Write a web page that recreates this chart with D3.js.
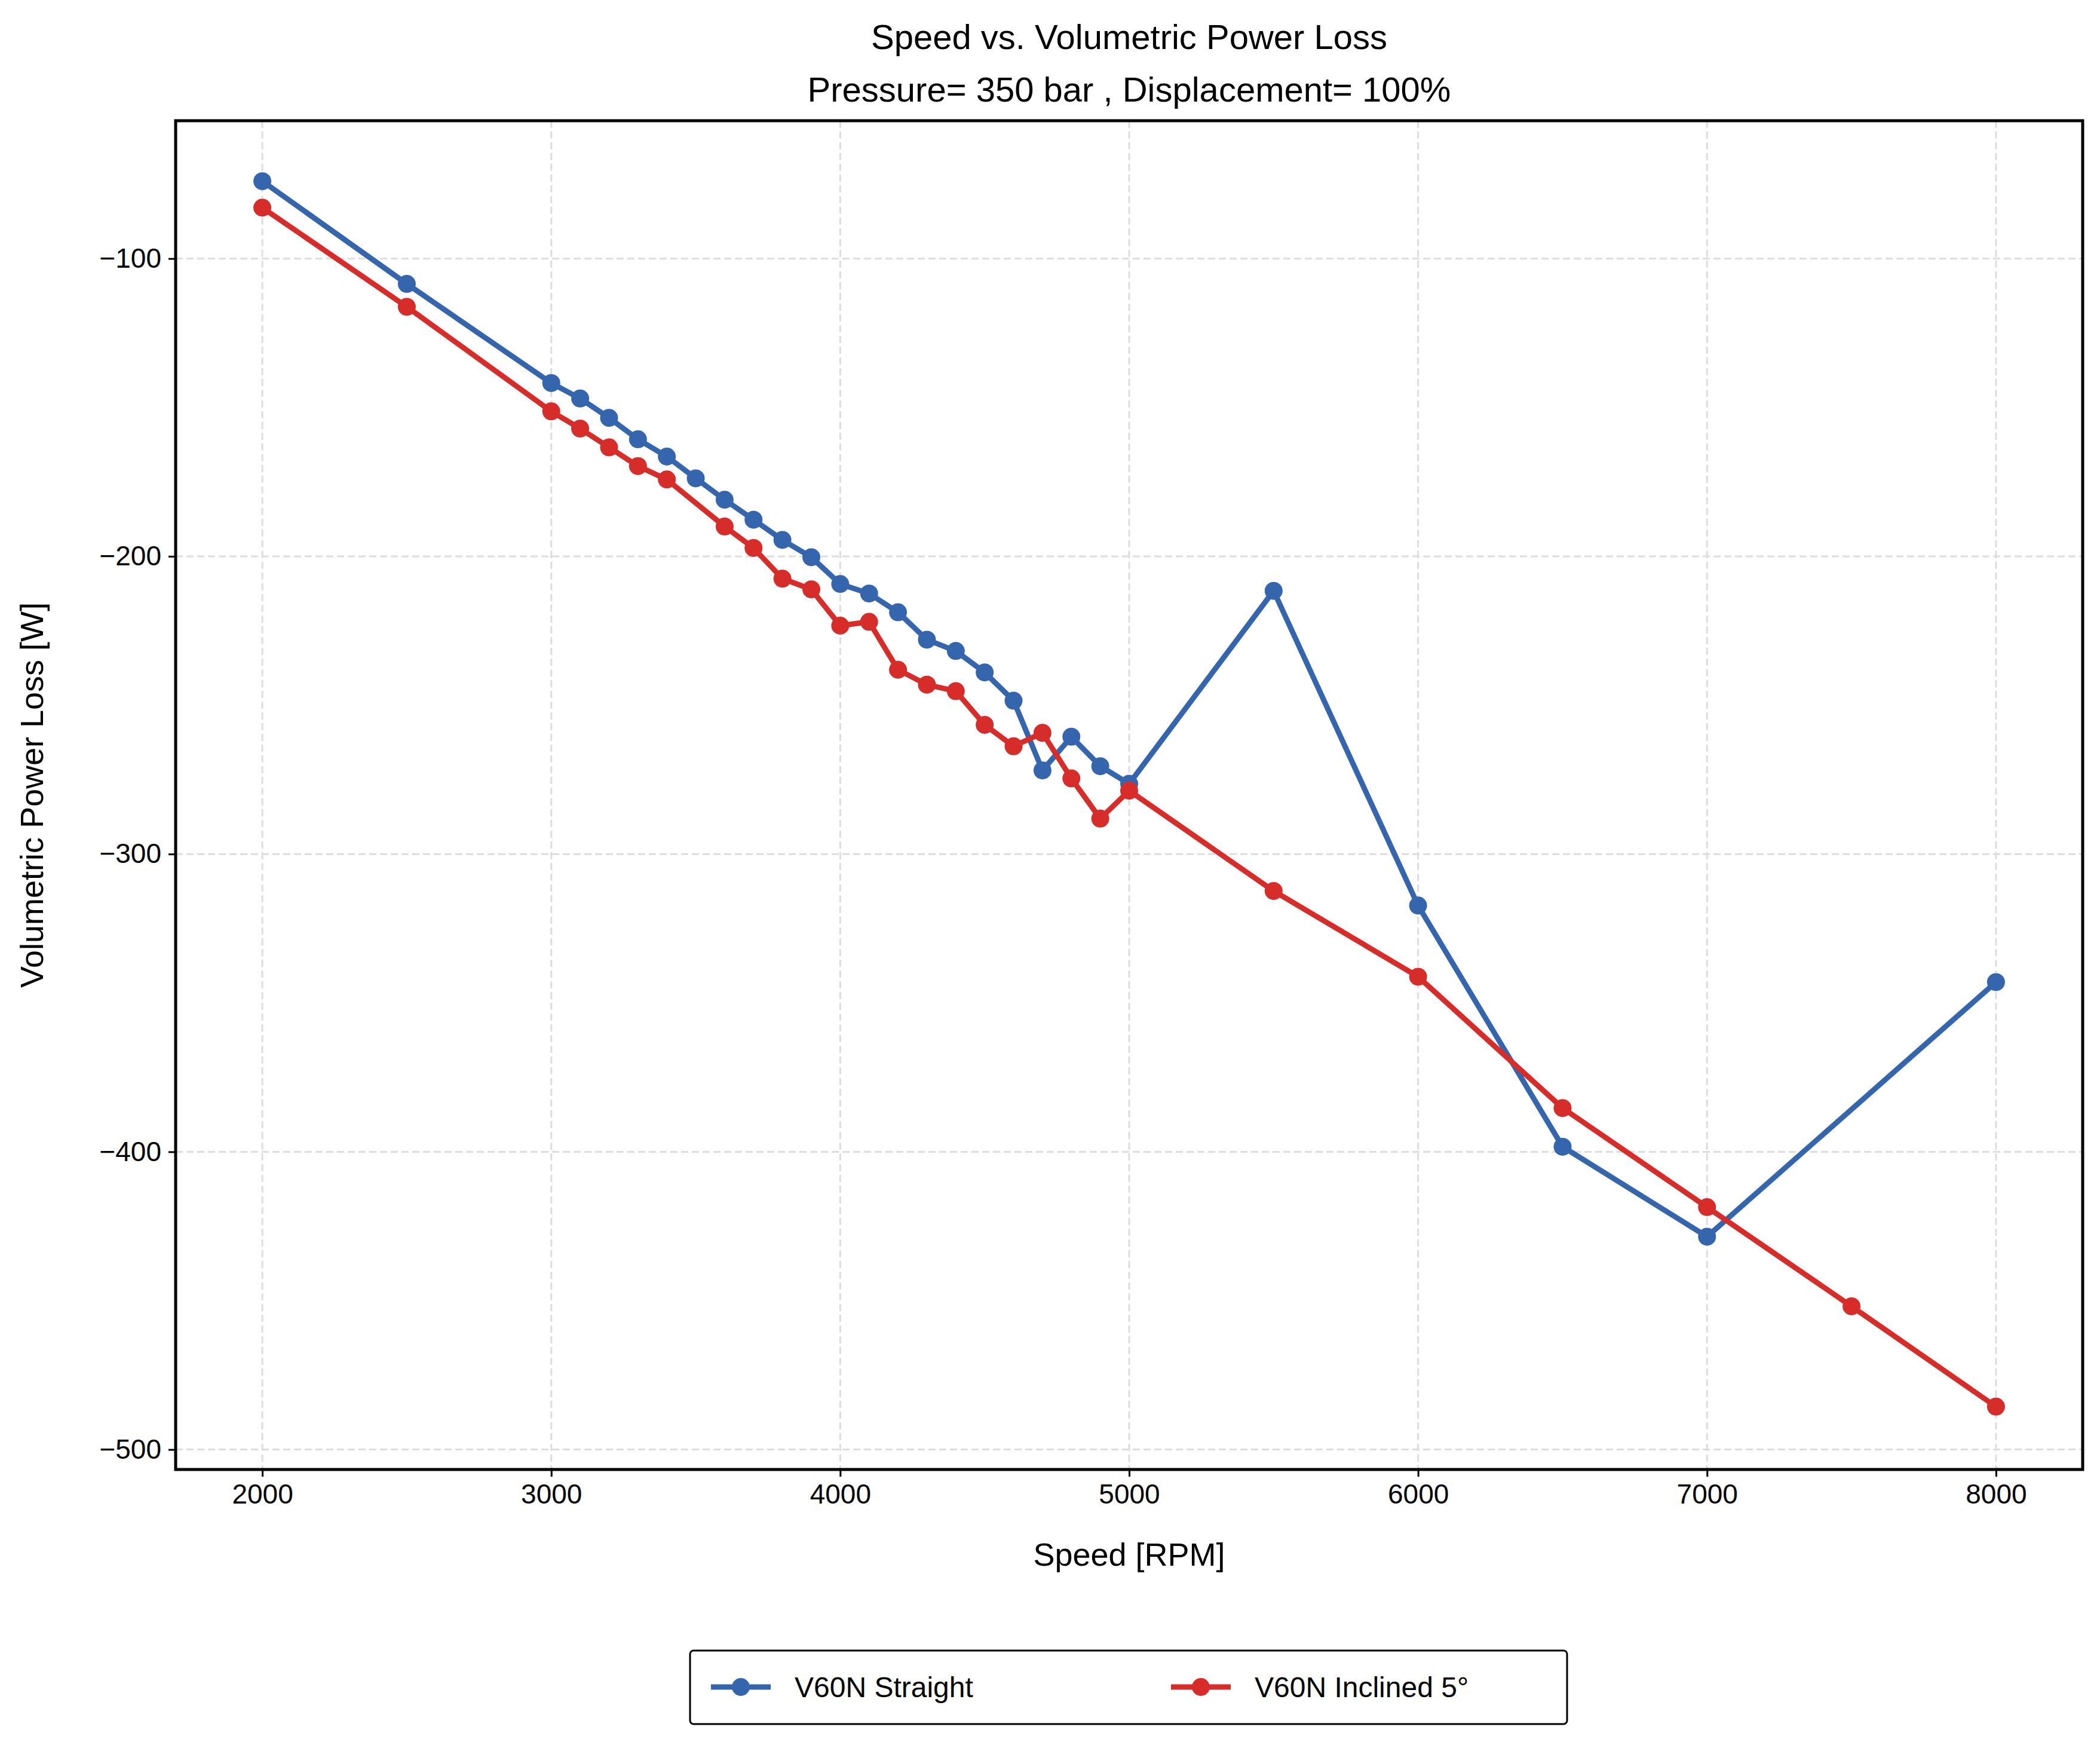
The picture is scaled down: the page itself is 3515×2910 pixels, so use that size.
<!DOCTYPE html>
<html>
<head>
<meta charset="UTF-8">
<script src="https://d3js.org/d3.v7.min.js"></script>
<style>
  body { margin: 0; background: white; }
  text { font-family: "Liberation Sans", Arial, sans-serif; fill: black; }
</style>
</head>
<body>
<svg id="chart" width="3515" height="2910"></svg>
<script>
// data
const blueSpeed = [2000, 2500, 3000, 3100, 3200, 3300, 3400, 3500, 3600, 3700, 3800, 3900, 4000, 4100, 4200, 4300, 4400, 4500, 4600, 4700, 4800, 4900, 5000, 5500, 6000, 6500, 7000, 8000];
const blueLoss = [-74, -108.5, -141.8, -147, -153.5, -160.7, -166.5, -173.8, -181, -187.7, -194.5, -200.3, -209.3, -212.5, -218.8, -228, -231.8, -239, -248.5, -271.9, -260.6, -270.5, -276.4, -211.6, -317.3, -398.3, -428.5, -343];
const redSpeed = [2000, 2500, 3000, 3100, 3200, 3300, 3400, 3600, 3700, 3800, 3900, 4000, 4100, 4200, 4300, 4400, 4500, 4600, 4700, 4800, 4900, 5000, 5500, 6000, 6500, 7000, 7500, 8000];
const redLoss = [-82.9, -116.2, -151.3, -157.1, -163.4, -169.7, -174.2, -190, -197.2, -207.5, -211.1, -223.3, -222, -238.1, -243.1, -245.3, -256.6, -263.8, -259.3, -274.6, -288.1, -278.7, -312.4, -341.2, -385.3, -418.6, -451.9, -485.6];
const xTicks = [2000, 3000, 4000, 5000, 6000, 7000, 8000];
const yTicks = [-100, -200, -300, -400, -500];
const seriesNames = ["V60N Straight", "V60N Inclined 5°"];
const colors = ["#3465ad", "#d62d2a"];

const pL = 294, pR = 3486, pT = 202, pB = 2459;
const svg = d3.select("#chart");
const x = d3.scaleLinear().domain([1700, 8300]).range([pL, pR]);
const y = d3.scaleLinear().domain([-506.7, -53.7]).range([pB, pT]);

// grid
svg.append("g").selectAll("line").data(xTicks).join("line")
  .attr("x1", d => x(d)).attr("x2", d => x(d)).attr("y1", pT).attr("y2", pB)
  .attr("stroke", "#dddddd").attr("stroke-width", 3).attr("stroke-dasharray", "12,6");
svg.append("g").selectAll("line").data(yTicks).join("line")
  .attr("y1", d => y(d)).attr("y2", d => y(d)).attr("x1", pL).attr("x2", pR)
  .attr("stroke", "#dddddd").attr("stroke-width", 3).attr("stroke-dasharray", "12,6");

// axes
const xAxis = svg.append("g").attr("transform", `translate(0,${pB})`)
  .call(d3.axisBottom(x).tickValues(xTicks).tickSize(12).tickPadding(12).tickFormat(d3.format("d")));
const yAxis = svg.append("g").attr("transform", `translate(${pL},0)`)
  .call(d3.axisLeft(y).tickValues(yTicks).tickSize(12).tickPadding(12).tickFormat(d => "\u2212" + Math.abs(d)));
[xAxis, yAxis].forEach(a => {
  a.select(".domain").remove();
  a.selectAll("line").attr("stroke-width", 3);
  a.selectAll("text").attr("font-size", 46).attr("font-family", "Liberation Sans, Arial, sans-serif");
});

svg.append("rect").attr("x", pL).attr("y", pT).attr("width", pR - pL).attr("height", pB - pT)
  .attr("fill", "none").attr("stroke", "black").attr("stroke-width", 5);

// series
const series = [
  { xs: blueSpeed, ys: blueLoss, color: colors[0] },
  { xs: redSpeed, ys: redLoss, color: colors[1] }
];
const line = d3.line().x(d => x(d[0])).y(d => y(d[1]));
series.forEach(s => {
  const pts = s.xs.map((v, i) => [v, s.ys[i]]);
  svg.append("path").datum(pts).attr("d", line).attr("fill", "none")
    .attr("stroke", s.color).attr("stroke-width", 9).attr("stroke-linejoin", "round");
  svg.append("g").selectAll("circle").data(pts).join("circle")
    .attr("cx", d => x(d[0])).attr("cy", d => y(d[1])).attr("r", 15).attr("fill", s.color);
});

// titles
svg.append("text").attr("x", (pL + pR) / 2).attr("y", 82).attr("text-anchor", "middle")
  .attr("font-size", 58).text("Speed vs. Volumetric Power Loss");
svg.append("text").attr("x", (pL + pR) / 2).attr("y", 170).attr("text-anchor", "middle")
  .attr("font-size", 58).text("Pressure= 350 bar , Displacement= 100%");
svg.append("text").attr("x", (pL + pR) / 2).attr("y", 2620).attr("text-anchor", "middle")
  .attr("font-size", 54).text("Speed [RPM]");
svg.append("text").attr("transform", `translate(72,${(pT + pB) / 2}) rotate(-90)`)
  .attr("text-anchor", "middle").attr("font-size", 54).text("Volumetric Power Loss [W]");

// legend
const lg = svg.append("g");
lg.append("rect").attr("x", 1155).attr("y", 2762).attr("width", 1468).attr("height", 123)
  .attr("fill", "white").attr("stroke", "black").attr("stroke-width", 3).attr("rx", 6);
const lx = [1190, 1960];
seriesNames.forEach((n, i) => {
  lg.append("line").attr("x1", lx[i]).attr("x2", lx[i] + 100).attr("y1", 2823).attr("y2", 2823)
    .attr("stroke", colors[i]).attr("stroke-width", 9);
  lg.append("circle").attr("cx", lx[i] + 50).attr("cy", 2823).attr("r", 15).attr("fill", colors[i]);
  lg.append("text").attr("x", lx[i] + 140).attr("y", 2840).attr("font-size", 48).text(n);
});
</script>
</body>
</html>
